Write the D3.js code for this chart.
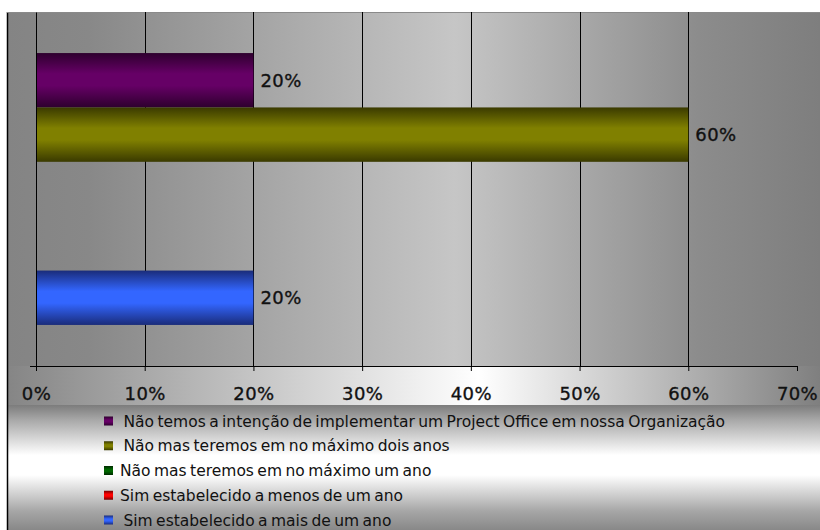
<!DOCTYPE html>
<html>
<head>
<meta charset="utf-8">
<script src="https://cdn.jsdelivr.net/npm/d3@7"></script>
<style>
  html, body { margin: 0; padding: 0; background: #ffffff; }
  svg { display: block; }
  .legend-label { white-space: pre; }
</style>
</head>
<body>
<svg id="chart" width="820" height="530"></svg>
<script>
// Survey answers: one category, five series drawn as stacked-down horizontal bars
const seriesNames = [
  " Não temos a intenção de implementar um Project Office em nossa Organização",
  " Não mas teremos em no máximo dois anos",
  "Não mas teremos em no máximo um ano",
  "Sim estabelecido a menos de um ano",
  " Sim estabelecido a mais de um ano"
];
const seriesValues = [20, 60, 0, 0, 20];
const seriesColors = ["#660066", "#808000", "#006600", "#ff0000", "#3366ff"];
const seriesShades = ["#2e002e", "#3a3a00", "#002a00", "#700000", "#1a2c7a"];
const tickValues = [0, 10, 20, 30, 40, 50, 60, 70];

const svg = d3.select("#chart");
const W = 820, H = 530;

const chartBox = { left: 7, top: 12, right: 820, bottom: 405 };
const plot = { left: 36, top: 12, right: 797, bottom: 366 };
const legendBox = { left: 7, top: 405, right: 820, bottom: 530 };
const labelFont = "DejaVu Sans, Verdana, sans-serif";

const defs = svg.append("defs");

// Chart area: grey -> white -> grey from left to right
const gChart = defs.append("linearGradient").attr("id", "chartFill")
  .attr("gradientUnits", "userSpaceOnUse")
  .attr("x1", chartBox.left).attr("x2", chartBox.right).attr("y1", 0).attr("y2", 0);
gChart.append("stop").attr("offset", 0).attr("stop-color", "#858585");
gChart.append("stop").attr("offset", 0.58).attr("stop-color", "#ffffff");
gChart.append("stop").attr("offset", 1).attr("stop-color", "#7f7f7f");

// Plot area: softer grey band
const gPlot = defs.append("linearGradient").attr("id", "plotFill")
  .attr("gradientUnits", "userSpaceOnUse")
  .attr("x1", chartBox.left).attr("x2", chartBox.right).attr("y1", 0).attr("y2", 0);
gPlot.append("stop").attr("offset", 0).attr("stop-color", "#848484");
gPlot.append("stop").attr("offset", 0.1).attr("stop-color", "#888888");
gPlot.append("stop").attr("offset", 0.55).attr("stop-color", "#c6c6c6");
gPlot.append("stop").attr("offset", 0.85).attr("stop-color", "#8c8c8c");
gPlot.append("stop").attr("offset", 1).attr("stop-color", "#7e7e7e");

// Legend: grey -> white -> grey from top to bottom
const gLegend = defs.append("linearGradient").attr("id", "legendFill")
  .attr("gradientUnits", "userSpaceOnUse")
  .attr("x1", 0).attr("x2", 0).attr("y1", legendBox.top).attr("y2", legendBox.bottom);
gLegend.append("stop").attr("offset", 0).attr("stop-color", "#7c7c7c");
gLegend.append("stop").attr("offset", 0.12).attr("stop-color", "#a8a8a8");
gLegend.append("stop").attr("offset", 0.4).attr("stop-color", "#ffffff");
gLegend.append("stop").attr("offset", 0.56).attr("stop-color", "#ffffff");
gLegend.append("stop").attr("offset", 0.85).attr("stop-color", "#a6a6a6");
gLegend.append("stop").attr("offset", 1).attr("stop-color", "#888888");

// Cylinder-like shading for each series
seriesColors.forEach((c, i) => {
  const g = defs.append("linearGradient").attr("id", "bar" + i)
    .attr("x1", 0).attr("x2", 0).attr("y1", 0).attr("y2", 1);
  g.append("stop").attr("offset", 0).attr("stop-color", seriesShades[i]);
  g.append("stop").attr("offset", 0.38).attr("stop-color", c);
  g.append("stop").attr("offset", 0.6).attr("stop-color", c);
  g.append("stop").attr("offset", 1).attr("stop-color", seriesShades[i]);
});

// Backgrounds
svg.append("rect")
  .attr("x", chartBox.left).attr("y", chartBox.top)
  .attr("width", chartBox.right - chartBox.left).attr("height", chartBox.bottom - chartBox.top)
  .attr("fill", "url(#chartFill)");
svg.append("rect")
  .attr("x", chartBox.left).attr("y", plot.top)
  .attr("width", chartBox.right - chartBox.left).attr("height", plot.bottom - plot.top)
  .attr("fill", "url(#plotFill)");
svg.append("rect")
  .attr("x", legendBox.left).attr("y", legendBox.top)
  .attr("width", legendBox.right - legendBox.left).attr("height", legendBox.bottom - legendBox.top)
  .attr("fill", "url(#legendFill)");

// Outer frame edges
svg.append("line").attr("x1", 7.5).attr("x2", 7.5).attr("y1", 12).attr("y2", H)
  .attr("stroke", "#000").attr("stroke-width", 1.5);
svg.append("line").attr("x1", 7).attr("x2", W).attr("y1", 12.5).attr("y2", 12.5)
  .attr("stroke", "#8a8a8a").attr("stroke-width", 1);

// Scales
const x = d3.scaleLinear().domain([0, 70]).range([plot.left, plot.right]);
const y = d3.scaleBand().domain(seriesNames)
  .range([plot.top, plot.bottom]).paddingInner(0).paddingOuter(0.755);

// Vertical gridlines
svg.append("g").selectAll("line")
  .data(tickValues.filter(t => t > 0 && t < 70))
  .join("line")
  .attr("x1", d => Math.round(x(d)) + 0.5).attr("x2", d => Math.round(x(d)) + 0.5)
  .attr("y1", plot.top).attr("y2", plot.bottom)
  .attr("stroke", "#000").attr("stroke-width", 1);

// Bars
svg.append("g").selectAll("rect")
  .data(seriesValues.map((v, i) => ({ v, i, name: seriesNames[i] })))
  .join("rect")
  .attr("x", x(0))
  .attr("y", d => y(d.name))
  .attr("width", d => x(d.v) - x(0))
  .attr("height", y.bandwidth())
  .attr("fill", d => "url(#bar" + d.i + ")");

// Value labels
svg.append("g").selectAll("text")
  .data(seriesValues.map((v, i) => ({ v, i, name: seriesNames[i] })).filter(d => d.v > 0))
  .join("text")
  .attr("x", d => x(d.v) + 7)
  .attr("y", d => y(d.name) + y.bandwidth() / 2)
  .attr("dy", "0.36em")
  .attr("font-family", labelFont)
  .attr("font-size", 18)
  .attr("letter-spacing", 0.4)
  .attr("fill", "#111")
  .attr("stroke", "#111").attr("stroke-width", 0.35)
  .text(d => d.v + "%");

// X axis
const xAxis = svg.append("g")
  .attr("transform", `translate(0,${plot.bottom})`)
  .call(d3.axisBottom(x).tickValues(tickValues).tickSize(5).tickSizeOuter(5)
    .tickFormat(d => d + "%"));
xAxis.select(".domain").attr("stroke", "#000");
xAxis.selectAll(".tick line").attr("stroke", "#000");
xAxis.selectAll(".tick text")
  .attr("y", 17)
  .attr("dy", "0.95em")
  .attr("font-family", labelFont)
  .attr("font-size", 18)
  .attr("letter-spacing", 0.4)
  .attr("fill", "#111")
  .attr("stroke", "#111").attr("stroke-width", 0.35);

// Category axis line at 0%
const yAxisScale = d3.scaleLinear().domain([0, 1]).range([plot.bottom, plot.top]);
const yAxis = svg.append("g")
  .attr("transform", `translate(${x(0)},0)`)
  .call(d3.axisLeft(yAxisScale).tickValues([0]).tickSize(6).tickSizeOuter(0).tickFormat(""));
yAxis.select(".domain").attr("stroke", "#000");
yAxis.selectAll(".tick line").attr("stroke", "#000");

// Legend
const legend = svg.append("g");
const rowY = d3.scalePoint().domain(seriesNames).range([421, 520]);
const rows = legend.selectAll("g")
  .data(seriesNames.map((name, i) => ({ name, i })))
  .join("g")
  .attr("transform", d => `translate(0,${rowY(d.name)})`);
rows.append("rect")
  .attr("x", 104).attr("y", -4.5).attr("width", 9).attr("height", 9)
  .attr("fill", d => "url(#bar" + d.i + ")");
rows.append("text")
  .attr("class", "legend-label")
  .attr("x", 120)
  .attr("dy", "0.36em")
  .attr("font-family", labelFont)
  .attr("font-size", 15.5)
  .attr("word-spacing", -1.5)
  .attr("fill", "#111")
  .text(d => d.name);
</script>
</body>
</html>
